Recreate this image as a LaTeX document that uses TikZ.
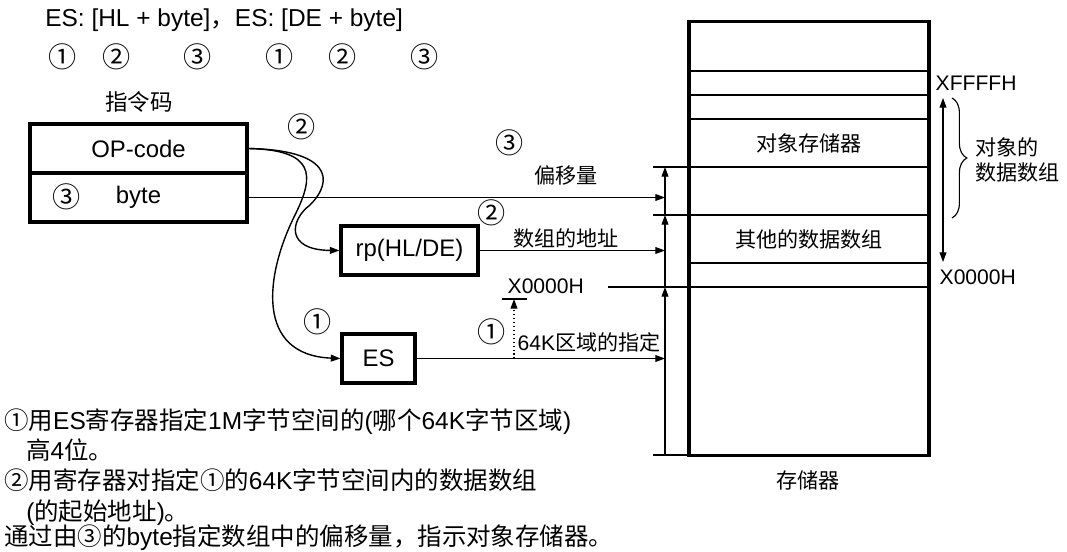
\documentclass[tikz,border=0pt]{standalone}
\usepackage{fontspec}
\setmainfont{Liberation Sans}
\newfontfamily\cjk{Noto Sans CJK SC}
\usetikzlibrary{arrows.meta,positioning,calc,decorations.pathreplacing}

\tikzset{
  regbox/.style={draw,line width=2.2pt,inner sep=0pt,font=\fontsize{17}{20}\selectfont},
  lbl/.style={inner sep=1pt,font=\fontsize{15}{18}\selectfont},
  cjklbl/.style={inner sep=1pt,font=\cjk\fontsize{15}{18}\selectfont},
  num/.style={inner sep=0pt,font=\cjk\fontsize{20}{22}\selectfont},
  note/.style={anchor=base west,inner sep=0pt,font=\fontsize{17.4}{20}\selectfont},
  arr/.style={line width=0.8pt,-{Triangle[length=2.4mm,width=1.7mm]}},
  memline/.style={line width=1.3pt}
}

\begin{document}
\begin{tikzpicture}[x=0.025cm,y=-0.025cm]
\useasboundingbox (0,0) rectangle (1067,552);
% syntax line
\node[note] (syntax) at (45,27) {ES: [HL + byte]{\cjk ，}ES: [DE + byte]};
\foreach \x/\t in {63/①,117/②,198/③,280/①,343/②,425/③}
  \node[num] at (\x,57) {\t};
% instruction
\node[font=\cjk\fontsize{16}{18}\selectfont] (title) at (139,102) {指令码};
\node[regbox,minimum width=5.425cm,minimum height=1.225cm] (op) at (138.5,148.5) {OP-code};
\node[regbox,minimum width=5.425cm,minimum height=1.225cm] (bytefield) at (138.5,197.5) {byte};
\node[num] (n3a) at (67,197) {③};
\node[regbox,minimum width=3.425cm,minimum height=1.225cm] (rp) at (409.5,250.5) {rp(HL/DE)};
\node[regbox,minimum width=1.825cm,minimum height=1.225cm] (es) at (378.5,358.5) {ES};
% memory
\node[draw,line width=2.2pt,inner sep=0pt,minimum width=6cm,minimum height=10.825cm] (mem) at (809,238.5) {};
\foreach \y in {71,95,119,263}
  \draw[memline] (689,\y) -- (929,\y);
\foreach \y in {167,215}
  \draw[memline] (653,\y) -- (929,\y);
\draw[memline] (608,287) -- (929,287);
\draw[memline] (653,455) -- (689,455);
\node[cjklbl] (target) at (809,143) {对象存储器};
\node[cjklbl] (others) at (809,239) {其他的数据数组};
\node[cjklbl] (memname) at (808,480) {存储器};
\node[lbl,anchor=west] (hi) at (934,83) {XFFFFH};
\node[lbl,anchor=west] (lo) at (938,277) {X0000H};
\coordinate (rtop) at (943,98);
\coordinate (rbot) at (943,262);
\draw[line width=0.8pt,{Triangle[length=2.4mm,width=1.7mm]}-{Triangle[length=2.4mm,width=1.7mm]}] (rtop) -- (rbot);
\draw[line width=0.8pt,decorate,decoration={brace,amplitude=0.37cm}] (952,98) -- (952,218);
\node[cjklbl,anchor=west,align=left] (arrlbl) at (974,160) {对象的\\数据数组};
% address arrows
\coordinate (o1) at (665,167);
\coordinate (o2) at (665,215);
\coordinate (o3) at (665,287);
\coordinate (o4) at (665,455);
\draw[arr] (o2) -- (o1);
\draw[arr] (o3) -- (o2);
\draw[arr] (o4) -- (o3);
\draw[arr] (bytefield.east) -- (bytefield.east -| o1);
\draw[arr] (rp.east) -- (rp.east -| o1);
\draw[arr] (es.east) -- (es.east -| o1);
\node[cjklbl] (offset) at (566,175) {偏移量};
\node[cjklbl] (base) at (566,238) {数组的地址};
\node[lbl,anchor=west] (seg) at (516,342) {64K{\cjk 区域的指定}};
\node[lbl,anchor=west] (segbase) at (506,286) {X0000H};
\coordinate (tick) at (514,299);
\draw[line width=0.8pt] (502,299) -- (527,299);
\draw[arr,dotted] (es.east -| tick) -- (tick);
% curves from OP-code
\draw[arr,line width=1pt] (op.east) .. controls (330,150) and (335,180) .. (310,205)
  .. controls (290,220) and (285,250) .. (rp.west);
\draw[arr,line width=1pt] (op.east) .. controls (315,150) and (315,175) .. (295,215)
  .. controls (265,275) and (255,355) .. (es.west);
\node[num] at (302,127) {②};
\node[num] at (510,143) {③};
\node[num] at (492,213) {②};
\node[num] at (318,322) {①};
\node[num] at (492,332) {①};
% notes
\node[note] (l1) at (4,429) {{\cjk ①用}ES{\cjk 寄存器指定}1M{\cjk 字节空间的}({\cjk 哪个}64K{\cjk 字节区域})};
\node[note] (l2) at (26,459) {{\cjk 高}4{\cjk 位。}};
\node[note] (l3) at (4,489) {{\cjk ②用寄存器对指定①的}64K{\cjk 字节空间内的数据数组}};
\node[note] (l4) at (26,520) {({\cjk 的起始地址}){\cjk 。}};
\node[note] (l5) at (4,545) {{\cjk 通过由③的}byte{\cjk 指定数组中的偏移量，指示对象存储器。}};
\end{tikzpicture}
\end{document}
